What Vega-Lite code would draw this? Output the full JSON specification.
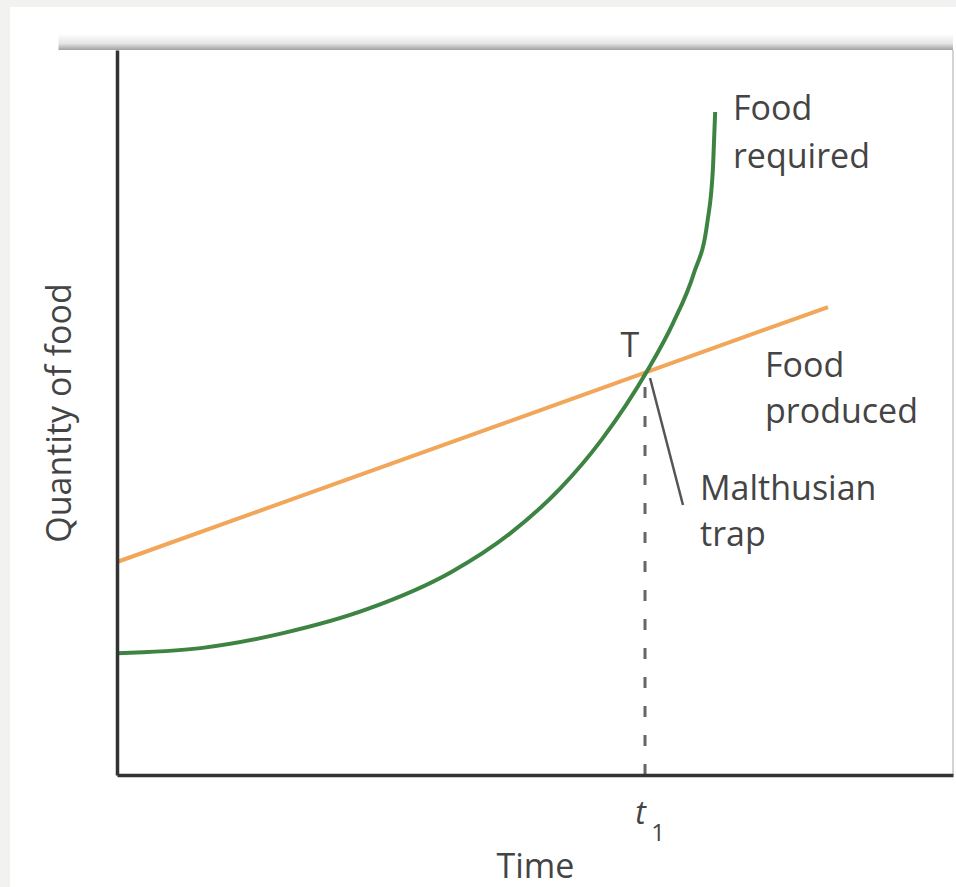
{
  "$schema": "https://vega.github.io/schema/vega-lite/v6.json",
  "autosize": {"type": "none"},
  "width": 836,
  "height": 725,
  "padding": {"left": 117, "top": 50, "right": 3, "bottom": 112},
  "background": "#f2f2f0",
  "datasets": {
    "one": [{}],
    "required": [
      {"x": 0, "y": 16.8},
      {"x": 10, "y": 17.5},
      {"x": 20, "y": 19.6},
      {"x": 30, "y": 22.9},
      {"x": 40, "y": 28.0},
      {"x": 47, "y": 33.3},
      {"x": 53, "y": 39.5},
      {"x": 58, "y": 46.3},
      {"x": 63.5, "y": 55.9},
      {"x": 66.5, "y": 62.3},
      {"x": 69, "y": 69.2},
      {"x": 70.6, "y": 76.1},
      {"x": 71.3, "y": 84.0},
      {"x": 71.55, "y": 91.45}
    ],
    "produced": [
      {"x": 0, "y": 29.38},
      {"x": 85.05, "y": 64.55}
    ],
    "labels": [
      {"text": "Food", "x": 73.68, "y": 90.34},
      {"text": "required", "x": 73.68, "y": 83.72},
      {"text": "Food", "x": 77.51, "y": 54.9},
      {"text": "produced", "x": 77.51, "y": 48.55},
      {"text": "Malthusian", "x": 69.74, "y": 37.93},
      {"text": "trap", "x": 69.74, "y": 31.59}
    ]
  },
  "layer": [
    {
      "data": {"name": "one"},
      "mark": {"type": "rect", "fill": "#ffffff", "clip": false},
      "encoding": {
        "x": {"datum": -12.8, "type": "quantitative", "scale": {"domain": [0, 100], "nice": false, "zero": false}, "axis": {"zindex": 1, "title": "Time"}},
        "x2": {"datum": 102},
        "y": {"datum": -16, "type": "quantitative", "scale": {"domain": [0, 100], "nice": false, "zero": false}, "axis": {"zindex": 1, "title": "Quantity of food"}},
        "y2": {"datum": 105.93}
      }
    },
    {
      "data": {"name": "one"},
      "mark": {
        "type": "rect",
        "clip": false,
        "fill": {"gradient": "linear", "x1": 0, "y1": 0, "x2": 0, "y2": 1, "stops": [{"offset": 0, "color": "#ffffff"}, {"offset": 0.6, "color": "#e4e4e4"}, {"offset": 1, "color": "#a0a0a0"}]}
      },
      "encoding": {
        "x": {"datum": -7, "type": "quantitative", "scale": {"domain": [0, 100], "nice": false, "zero": false}},
        "x2": {"datum": 100},
        "y": {"datum": 100, "type": "quantitative", "scale": {"domain": [0, 100], "nice": false, "zero": false}},
        "y2": {"datum": 102.2}
      }
    },
    {
      "data": {"name": "one"},
      "mark": {"type": "rule", "color": "#d4d4d4", "strokeWidth": 2},
      "encoding": {
        "x": {"datum": 100, "type": "quantitative", "scale": {"domain": [0, 100], "nice": false, "zero": false}},
        "y": {"datum": 0, "type": "quantitative", "scale": {"domain": [0, 100], "nice": false, "zero": false}},
        "y2": {"datum": 100}
      }
    },
    {
      "data": {"name": "produced"},
      "mark": {"type": "line", "color": "#f2a65a", "strokeWidth": 4, "clip": false},
      "encoding": {
        "x": {"field": "x", "type": "quantitative", "scale": {"domain": [0, 100], "nice": false, "zero": false}, "axis": {"zindex": 1, "title": "Time"}},
        "y": {"field": "y", "type": "quantitative", "scale": {"domain": [0, 100], "nice": false, "zero": false}, "axis": {"zindex": 1, "title": "Quantity of food"}}
      }
    },
    {
      "data": {"name": "required"},
      "mark": {"type": "line", "color": "#3d8342", "strokeWidth": 4, "interpolate": "monotone", "clip": false},
      "encoding": {
        "x": {"field": "x", "type": "quantitative", "scale": {"domain": [0, 100], "nice": false, "zero": false}, "axis": {"zindex": 1, "title": "Time"}},
        "y": {"field": "y", "type": "quantitative", "scale": {"domain": [0, 100], "nice": false, "zero": false}, "axis": {"zindex": 1, "title": "Quantity of food"}}
      }
    },
    {
      "data": {"name": "one"},
      "mark": {"type": "rule", "color": "#666666", "strokeWidth": 3, "strokeDash": [11, 18]},
      "encoding": {
        "x": {"datum": 63.16, "type": "quantitative", "scale": {"domain": [0, 100], "nice": false, "zero": false}},
        "y": {"datum": 0, "type": "quantitative", "scale": {"domain": [0, 100], "nice": false, "zero": false}},
        "y2": {"datum": 54.76}
      }
    },
    {
      "data": {"name": "one"},
      "mark": {"type": "rule", "color": "#555555", "strokeWidth": 2.5},
      "encoding": {
        "x": {"datum": 63.76, "type": "quantitative", "scale": {"domain": [0, 100], "nice": false, "zero": false}},
        "x2": {"datum": 67.7},
        "y": {"datum": 54.76, "type": "quantitative", "scale": {"domain": [0, 100], "nice": false, "zero": false}},
        "y2": {"datum": 37.24}
      }
    },
    {
      "data": {"name": "labels"},
      "mark": {"type": "text", "font": "Open Sans", "fontSize": 34, "color": "#444444", "align": "left", "baseline": "alphabetic", "clip": false},
      "encoding": {
        "x": {"field": "x", "type": "quantitative", "scale": {"domain": [0, 100], "nice": false, "zero": false}, "axis": {"zindex": 1, "title": "Time"}},
        "y": {"field": "y", "type": "quantitative", "scale": {"domain": [0, 100], "nice": false, "zero": false}, "axis": {"zindex": 1, "title": "Quantity of food"}},
        "text": {"field": "text"}
      }
    },
    {
      "data": {"name": "one"},
      "mark": {"type": "text", "font": "Open Sans", "fontSize": 34, "color": "#444444", "align": "center", "baseline": "alphabetic", "text": "T", "clip": false},
      "encoding": {
        "x": {"datum": 61.36, "type": "quantitative", "scale": {"domain": [0, 100], "nice": false, "zero": false}},
        "y": {"datum": 57.66, "type": "quantitative", "scale": {"domain": [0, 100], "nice": false, "zero": false}}
      }
    },
    {
      "data": {"name": "one"},
      "mark": {"type": "text", "font": "Open Sans", "fontSize": 32, "fontStyle": "italic", "color": "#444444", "align": "left", "baseline": "alphabetic", "text": "t", "clip": false},
      "encoding": {
        "x": {"datum": 62.0, "type": "quantitative", "scale": {"domain": [0, 100], "nice": false, "zero": false}},
        "y": {"datum": -6.76, "type": "quantitative", "scale": {"domain": [0, 100], "nice": false, "zero": false}}
      }
    },
    {
      "data": {"name": "one"},
      "mark": {"type": "text", "font": "Open Sans", "fontSize": 24, "color": "#444444", "align": "left", "baseline": "alphabetic", "text": "1", "clip": false},
      "encoding": {
        "x": {"datum": 63.9, "type": "quantitative", "scale": {"domain": [0, 100], "nice": false, "zero": false}},
        "y": {"datum": -9.1, "type": "quantitative", "scale": {"domain": [0, 100], "nice": false, "zero": false}}
      }
    }
  ],
  "config": {
    "view": {"stroke": "#d0d0d0", "strokeWidth": 1.5},
    "axis": {
      "domainColor": "#333333",
      "domainWidth": 3.5,
      "ticks": false,
      "labels": false,
      "grid": false,
      "titleFont": "Open Sans",
      "titleFontSize": 34,
      "titleFontWeight": "normal",
      "titleColor": "#444444"
    },
    "axisX": {"titleBaseline": "alphabetic", "titlePadding": 102},
    "axisY": {"titleBaseline": "alphabetic", "titlePadding": 47}
  }
}
